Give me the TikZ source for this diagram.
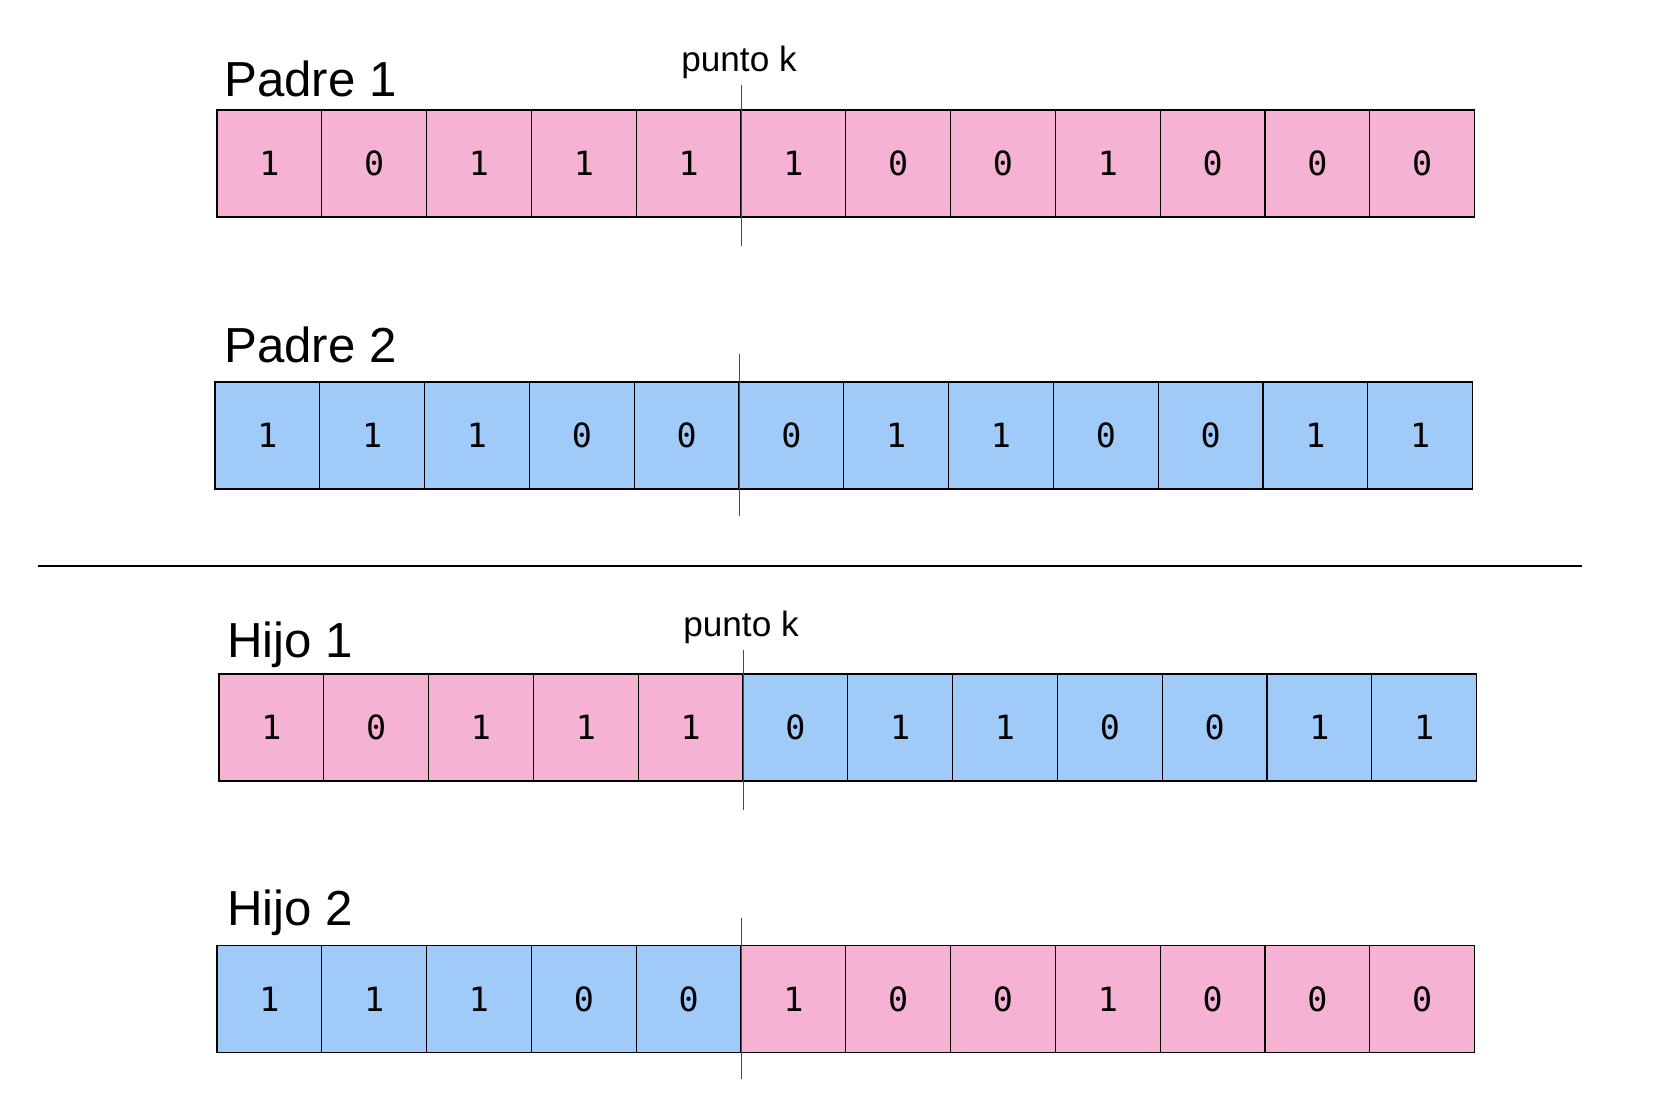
\documentclass[tikz,border=0pt]{standalone}
\usepackage{fontspec}
\setmainfont{Liberation Sans}
\newfontfamily\bitfont{DejaVu Sans Mono}
\usepackage{xcolor}
\definecolor{GenPink}{HTML}{F6B2D3}
\definecolor{GenBlue}{HTML}{A0CBF8}
\definecolor{CutBlue}{HTML}{1A46E8}
\usetikzlibrary{positioning,calc}

\begin{document}
\begin{tikzpicture}[x=0.02cm,y=-0.02cm,
    bit/.style={draw=black, line width=0.6pt, minimum width=2.096cm, minimum height=2.14cm, inner sep=0pt, font=\bitfont\fontsize{19}{19}\selectfont},
    title/.style={anchor=base west, inner sep=0pt, font=\fontsize{28}{28}\selectfont},
    ptk/.style={anchor=base, inner sep=0pt, font=\fontsize{20}{20}\selectfont},
    kline/.style={draw=CutBlue, line width=1.1pt}]
    \useasboundingbox (0,0) rectangle (1678,1110);

    % Padre 1
    \node[title] (padre1) at (224,96) {Padre 1};
    \foreach \b [count=\i] in {1,0,1,1,1,1,0,0,1,0,0,0}
        \node[bit, fill=GenPink] (p1-\i) at (217+104.8*\i-52.4,163.5) {\b};
    \node[ptk] (k1) at (739,71) {punto k};
    \draw[kline] ([yshift=0.48cm]p1-5.north east) -- ([yshift=-0.56cm]p1-5.south east);

    % Padre 2
    \node[title] (padre2) at (224,362) {Padre 2};
    \foreach \b [count=\i] in {1,1,1,0,0,0,1,1,0,0,1,1}
        \node[bit, fill=GenBlue] (p2-\i) at (215+104.8*\i-52.4,435.5) {\b};
    \draw[kline] ([yshift=0.54cm]p2-5.north east) -- ([yshift=-0.52cm]p2-5.south east);

    % separador
    \coordinate (sepl) at (38,566);
    \coordinate (sepr) at (1582,566);
    \draw[line width=1.1pt] (sepl) -- (sepr);

    % Hijo 1
    \node[title] (hijo1) at (227,657) {Hijo 1};
    \foreach \b [count=\i] in {1,0,1,1,1,0,1,1,0,0,1,1} {
        \ifnum\i<6 \def\c{GenPink}\else \def\c{GenBlue}\fi
        \node[bit, fill=\c] (h1-\i) at (219+104.8*\i-52.4,727.5) {\b};
    }
    \node[ptk] (k2) at (741,636) {punto k};
    \draw[kline] ([yshift=0.48cm]h1-5.north east) -- ([yshift=-0.56cm]h1-5.south east);

    % Hijo 2
    \node[title] (hijo2) at (227,925) {Hijo 2};
    \foreach \b [count=\i] in {1,1,1,0,0,1,0,0,1,0,0,0} {
        \ifnum\i<6 \def\c{GenBlue}\else \def\c{GenPink}\fi
        \node[bit, fill=\c] (h2-\i) at (217+104.8*\i-52.4,999) {\b};
    }
    \draw[kline] ([yshift=0.54cm]h2-5.north east) -- ([yshift=-0.52cm]h2-5.south east);
\end{tikzpicture}
\end{document}
